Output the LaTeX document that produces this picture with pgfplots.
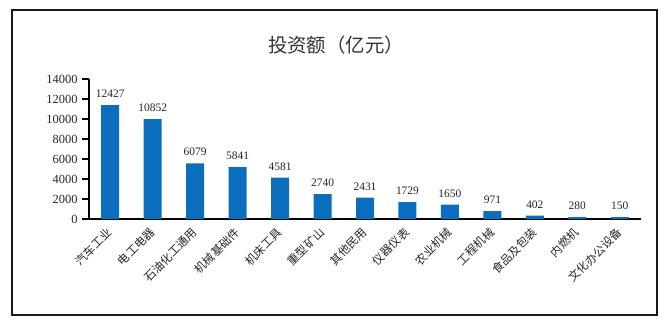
\documentclass[border=0pt]{standalone}
\usepackage{fontspec}
\setmainfont{Liberation Serif}
\newfontfamily\cjk{Noto Sans CJK SC}
\usepackage{pgfplots}
\pgfplotsset{compat=1.18}
\definecolor{barblue}{HTML}{0A6EBD}
\pgfplotstableread{
x h label
0 11400 12427
1 10000 10852
2 5570 6079
3 5200 5841
4 4130 4581
5 2500 2740
6 2130 2431
7 1700 1729
8 1430 1650
9 800 971
10 330 402
11 200 280
12 200 150
}\datatable
\begin{document}
\begin{tikzpicture}[x=1bp,y=1bp]
\useasboundingbox (0,0) rectangle (668,335);
\draw[line width=1.2bp, black!90] (12,20) rectangle (657,325);
\node[font=\cjk\fontsize{19.5}{22}\selectfont, text=black!80] at (336,290) {投资额（亿元）};
\begin{axis}[
  at={(89bp,116bp)}, anchor=south west,
  scale only axis, width=552bp, height=140bp,
  xmin=-0.5, xmax=12.5, ymin=0, ymax=14000,
  axis x line*=bottom, axis y line*=left,
  axis line style={line width=1.5bp, black},
  ytick={0,2000,...,14000},
  scaled y ticks=false,
  /pgf/number format/1000 sep={},
  /pgf/number format/assume math mode=true,
  yticklabel style={font=\fontsize{12.5}{13}\selectfont, text=black!85, xshift=-1bp},
  ytick style={line width=1.2bp, black},
  major tick length=7bp,
  ytick align=outside,
  xtick={0,...,12},
  xticklabels={汽车工业,电工电器,石油化工通用,机械基础件,机床工具,重型矿山,其他民用,仪器仪表,农业机械,工程机械,食品及包装,内燃机,文化办公设备},
  xticklabel style={font=\cjk\fontsize{11.5}{12}\selectfont, text=black!85, rotate=45, anchor=east, yshift=-3bp},
  xtick style={draw=none},
  minor xtick={-0.5,0.5,...,12.5},
  minor tick length=6bp,
  xtick align=outside,
  minor x tick style={line width=1.2bp, black},
  clip=false,
]
\addplot[ybar, bar width=18bp, fill=barblue, draw=none,
  point meta=explicit symbolic,
  nodes near coords,
  nodes near coords style={font=\fontsize{11.5}{12}\selectfont, text=black!85, anchor=south, yshift=4bp}]
  table[x=x, y=h, meta=label] {\datatable};
\end{axis}
\end{tikzpicture}
\end{document}
